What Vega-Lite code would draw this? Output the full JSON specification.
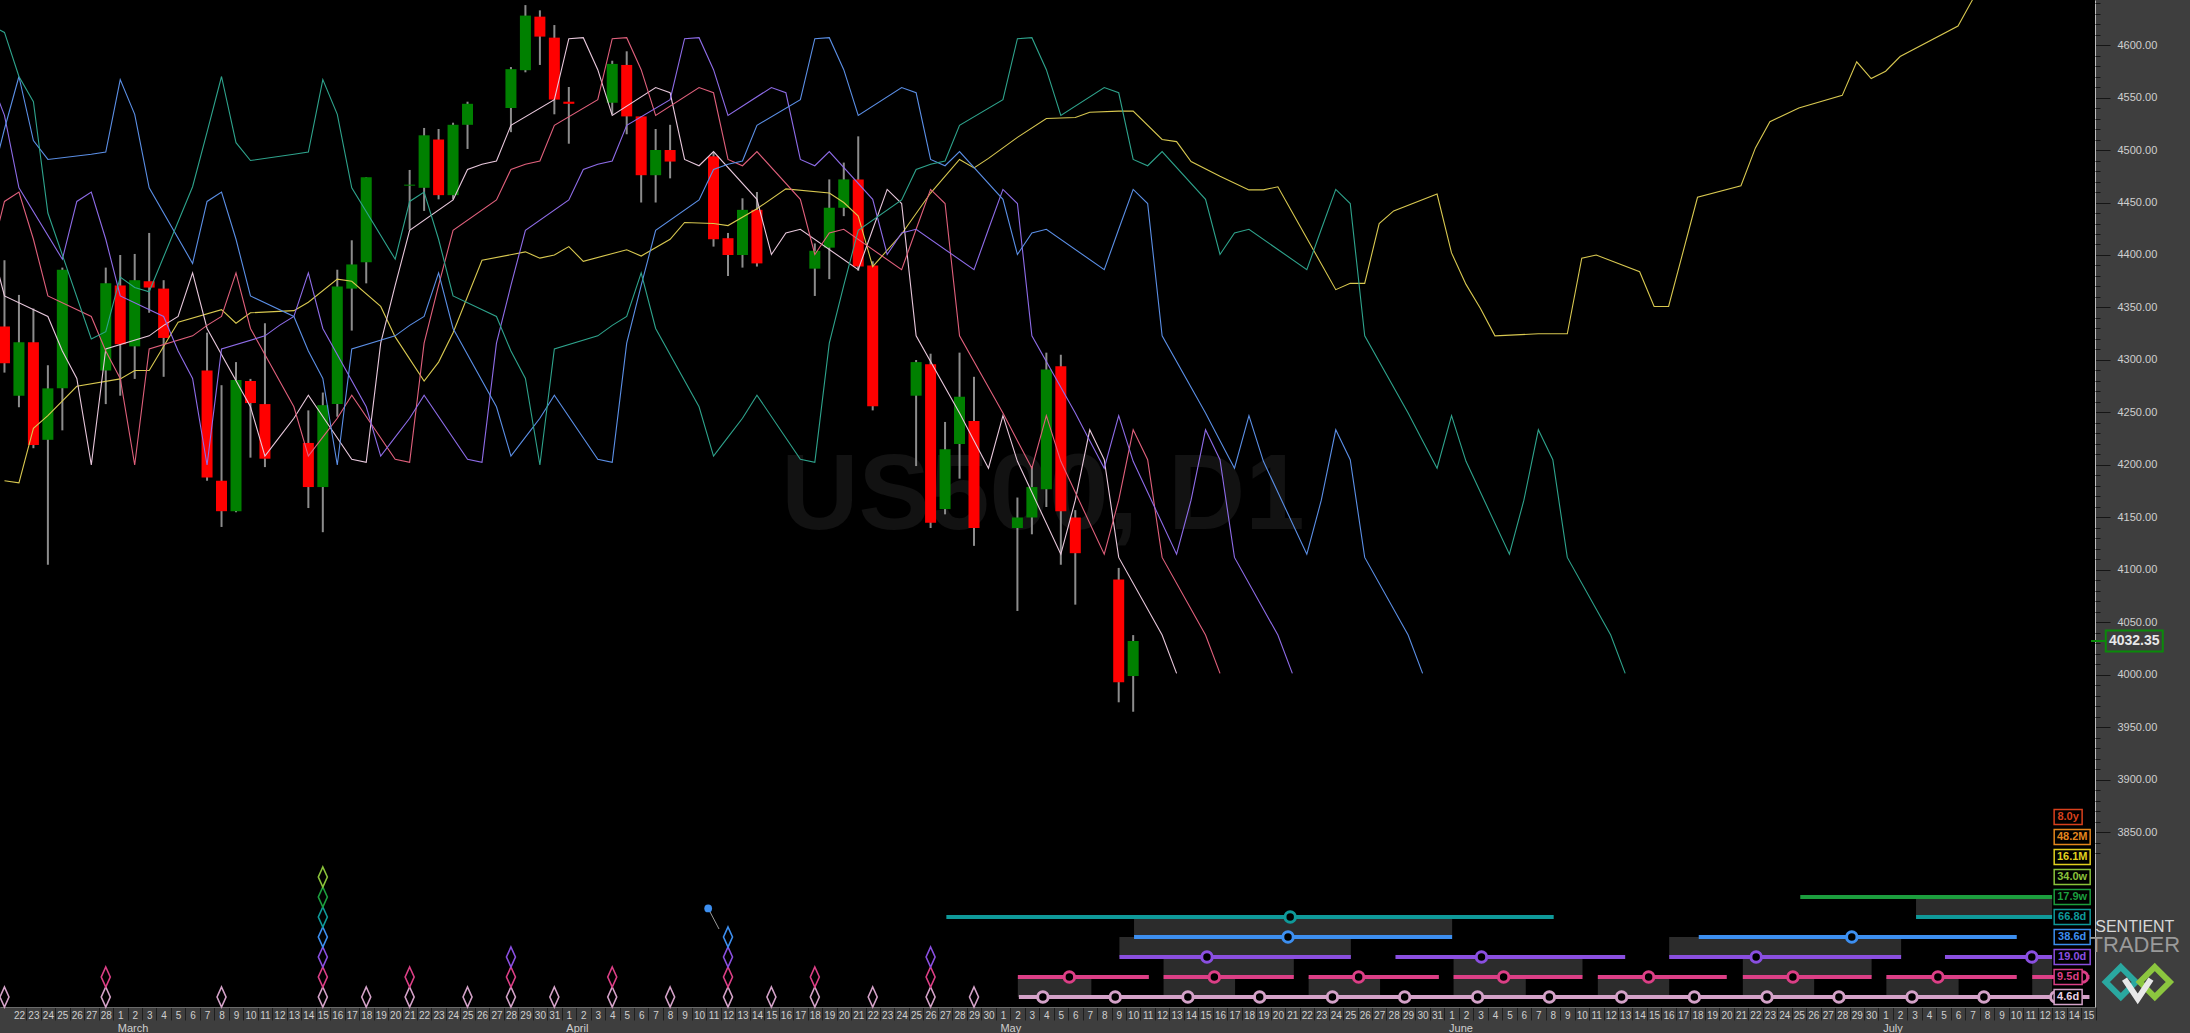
{
  "$schema": "https://vega.github.io/schema/vega-lite/v6.json",
  "width": 2095,
  "height": 1007,
  "autosize": {"type": "none"},
  "padding": {"left": 0, "top": 0, "right": 95, "bottom": 26},
  "background": "#3e3e3e",
  "config": {"view": {"fill": "#000000", "stroke": null}, "font": "Liberation Sans", "axis": {"labelOverlap": false}},
  "datasets": {
    "candles": [
      {"t":"2022-02-21","o":4332,"h":4395,"l":4288,"c":4297},
      {"t":"2022-02-22","o":4266,"h":4362,"l":4255,"c":4317},
      {"t":"2022-02-23","o":4317,"h":4349,"l":4216,"c":4219},
      {"t":"2022-02-24","o":4224,"h":4295,"l":4105,"c":4273},
      {"t":"2022-02-25","o":4273,"h":4388,"l":4233,"c":4386},
      {"t":"2022-02-28","o":4290,"h":4388,"l":4258,"c":4373},
      {"t":"2022-03-01","o":4371,"h":4400,"l":4266,"c":4315},
      {"t":"2022-03-02","o":4313,"h":4401,"l":4282,"c":4376},
      {"t":"2022-03-03","o":4375,"h":4421,"l":4345,"c":4369},
      {"t":"2022-03-04","o":4368,"h":4376,"l":4284,"c":4321},
      {"t":"2022-03-07","o":4290,"h":4326,"l":4185,"c":4188},
      {"t":"2022-03-08","o":4185,"h":4276,"l":4141,"c":4156},
      {"t":"2022-03-09","o":4156,"h":4298,"l":4155,"c":4281},
      {"t":"2022-03-10","o":4280,"h":4282,"l":4207,"c":4259},
      {"t":"2022-03-11","o":4258,"h":4335,"l":4198,"c":4206},
      {"t":"2022-03-14","o":4221,"h":4252,"l":4159,"c":4179},
      {"t":"2022-03-15","o":4179,"h":4269,"l":4136,"c":4257},
      {"t":"2022-03-16","o":4258,"h":4386,"l":4246,"c":4370},
      {"t":"2022-03-17","o":4368,"h":4414,"l":4328,"c":4391},
      {"t":"2022-03-18","o":4393,"h":4474,"l":4373,"c":4474},
      {"t":"2022-03-21","o":4466,"h":4481,"l":4424,"c":4467},
      {"t":"2022-03-22","o":4464,"h":4521,"l":4442,"c":4514},
      {"t":"2022-03-23","o":4510,"h":4520,"l":4453,"c":4457},
      {"t":"2022-03-24","o":4457,"h":4526,"l":4453,"c":4524},
      {"t":"2022-03-25","o":4524,"h":4546,"l":4501,"c":4544},
      {"t":"2022-03-28","o":4540,"h":4579,"l":4517,"c":4577},
      {"t":"2022-03-29","o":4576,"h":4638,"l":4574,"c":4628},
      {"t":"2022-03-30","o":4627,"h":4633,"l":4581,"c":4608},
      {"t":"2022-03-31","o":4607,"h":4619,"l":4534,"c":4548},
      {"t":"2022-04-01","o":4546,"h":4560,"l":4506,"c":4544},
      {"t":"2022-04-04","o":4545,"h":4585,"l":4534,"c":4582},
      {"t":"2022-04-05","o":4581,"h":4594,"l":4515,"c":4532},
      {"t":"2022-04-06","o":4532,"h":4532,"l":4450,"c":4476},
      {"t":"2022-04-07","o":4476,"h":4520,"l":4450,"c":4500},
      {"t":"2022-04-08","o":4500,"h":4524,"l":4473,"c":4489},
      {"t":"2022-04-11","o":4494,"h":4498,"l":4408,"c":4415},
      {"t":"2022-04-12","o":4416,"h":4421,"l":4380,"c":4400},
      {"t":"2022-04-13","o":4400,"h":4454,"l":4388,"c":4443},
      {"t":"2022-04-14","o":4443,"h":4460,"l":4389,"c":4392},
      {"t":"2022-04-18","o":4387,"h":4411,"l":4361,"c":4404},
      {"t":"2022-04-19","o":4407,"h":4472,"l":4377,"c":4445},
      {"t":"2022-04-20","o":4445,"h":4488,"l":4437,"c":4472},
      {"t":"2022-04-21","o":4472,"h":4513,"l":4385,"c":4389},
      {"t":"2022-04-22","o":4390,"h":4394,"l":4252,"c":4256},
      {"t":"2022-04-25","o":4266,"h":4300,"l":4199,"c":4298},
      {"t":"2022-04-26","o":4296,"h":4306,"l":4140,"c":4145},
      {"t":"2022-04-27","o":4158,"h":4241,"l":4153,"c":4215},
      {"t":"2022-04-28","o":4220,"h":4307,"l":4187,"c":4265},
      {"t":"2022-04-29","o":4242,"h":4284,"l":4123,"c":4140},
      {"t":"2022-05-02","o":4140,"h":4169,"l":4061,"c":4150},
      {"t":"2022-05-03","o":4150,"h":4199,"l":4134,"c":4179},
      {"t":"2022-05-04","o":4177,"h":4307,"l":4160,"c":4291},
      {"t":"2022-05-05","o":4294,"h":4305,"l":4105,"c":4156},
      {"t":"2022-05-06","o":4150,"h":4157,"l":4067,"c":4116},
      {"t":"2022-05-09","o":4091,"h":4102,"l":3974,"c":3993},
      {"t":"2022-05-10","o":3999,"h":4038,"l":3965,"c":4032.35}
    ],
    "lines": [
      {"s":"Y","t":"2022-02-21","p":4185},{"s":"Y","t":"2022-02-22","p":4183},{"s":"Y","t":"2022-02-23","p":4235},{"s":"Y","t":"2022-02-24","p":4247},
      {"s":"Y","t":"2022-02-26","p":4275},{"s":"Y","t":"2022-03-01","p":4282},{"s":"Y","t":"2022-03-02","p":4290},{"s":"Y","t":"2022-03-03","p":4290},
      {"s":"Y","t":"2022-03-05","p":4336},{"s":"Y","t":"2022-03-08","p":4348},{"s":"Y","t":"2022-03-09","p":4335},{"s":"Y","t":"2022-03-10","p":4345},
      {"s":"Y","t":"2022-03-13","p":4347},{"s":"Y","t":"2022-03-14","p":4355},{"s":"Y","t":"2022-03-16","p":4377},{"s":"Y","t":"2022-03-17","p":4375},
      {"s":"Y","t":"2022-03-19","p":4351},{"s":"Y","t":"2022-03-20","p":4322},{"s":"Y","t":"2022-03-22","p":4280},{"s":"Y","t":"2022-03-23","p":4298},
      {"s":"Y","t":"2022-03-24","p":4326},{"s":"Y","t":"2022-03-26","p":4395},{"s":"Y","t":"2022-03-29","p":4403},{"s":"Y","t":"2022-03-30","p":4397},
      {"s":"Y","t":"2022-03-31","p":4400},{"s":"Y","t":"2022-04-01","p":4408},{"s":"Y","t":"2022-04-02","p":4394},{"s":"Y","t":"2022-04-05","p":4405},
      {"s":"Y","t":"2022-04-06","p":4399},{"s":"Y","t":"2022-04-08","p":4415},{"s":"Y","t":"2022-04-09","p":4431},{"s":"Y","t":"2022-04-11","p":4430},
      {"s":"Y","t":"2022-04-12","p":4428},{"s":"Y","t":"2022-04-14","p":4444},{"s":"Y","t":"2022-04-16","p":4463},{"s":"Y","t":"2022-04-19","p":4459},
      {"s":"Y","t":"2022-04-20","p":4450},{"s":"Y","t":"2022-04-21","p":4437},{"s":"Y","t":"2022-04-22","p":4389},{"s":"Y","t":"2022-04-24","p":4420},
      {"s":"Y","t":"2022-04-26","p":4459},{"s":"Y","t":"2022-04-28","p":4491},{"s":"Y","t":"2022-04-29","p":4483},{"s":"Y","t":"2022-04-30","p":4492},
      {"s":"Y","t":"2022-05-02","p":4512},{"s":"Y","t":"2022-05-04","p":4530},{"s":"Y","t":"2022-05-06","p":4531},{"s":"Y","t":"2022-05-07","p":4536},
      {"s":"Y","t":"2022-05-09","p":4537},{"s":"Y","t":"2022-05-10","p":4537},{"s":"Y","t":"2022-05-12","p":4510},{"s":"Y","t":"2022-05-13","p":4508},
      {"s":"Y","t":"2022-05-14","p":4489},{"s":"Y","t":"2022-05-16","p":4475},{"s":"Y","t":"2022-05-18","p":4462},{"s":"Y","t":"2022-05-19","p":4462},
      {"s":"Y","t":"2022-05-20","p":4465},{"s":"Y","t":"2022-05-22","p":4416},{"s":"Y","t":"2022-05-24","p":4367},{"s":"Y","t":"2022-05-25","p":4373},
      {"s":"Y","t":"2022-05-26","p":4373},{"s":"Y","t":"2022-05-27","p":4430},{"s":"Y","t":"2022-05-28","p":4442},{"s":"Y","t":"2022-05-31","p":4458},
      {"s":"Y","t":"2022-06-01","p":4402},{"s":"Y","t":"2022-06-02","p":4372},{"s":"Y","t":"2022-06-03","p":4349},{"s":"Y","t":"2022-06-04","p":4323},
      {"s":"Y","t":"2022-06-07","p":4325},{"s":"Y","t":"2022-06-09","p":4325},{"s":"Y","t":"2022-06-10","p":4397},{"s":"Y","t":"2022-06-11","p":4400},
      {"s":"Y","t":"2022-06-14","p":4384},{"s":"Y","t":"2022-06-15","p":4351},{"s":"Y","t":"2022-06-16","p":4351},{"s":"Y","t":"2022-06-18","p":4455},
      {"s":"Y","t":"2022-06-21","p":4466},{"s":"Y","t":"2022-06-22","p":4502},{"s":"Y","t":"2022-06-23","p":4527},{"s":"Y","t":"2022-06-25","p":4540},
      {"s":"Y","t":"2022-06-28","p":4552},{"s":"Y","t":"2022-06-29","p":4584},{"s":"Y","t":"2022-06-30","p":4568},{"s":"Y","t":"2022-07-01","p":4575},
      {"s":"Y","t":"2022-07-02","p":4589},{"s":"Y","t":"2022-07-06","p":4618},{"s":"Y","t":"2022-07-07","p":4643},{"s":"Y","t":"2022-07-08","p":4668},

      {"s":"W","t":"2022-02-20","p":4414},{"s":"W","t":"2022-02-21","p":4361},{"s":"W","t":"2022-02-24","p":4341.5},{"s":"W","t":"2022-02-25","p":4308.5},
      {"s":"W","t":"2022-02-26","p":4282.5},{"s":"W","t":"2022-02-27","p":4200},{"s":"W","t":"2022-02-28","p":4310.5},{"s":"W","t":"2022-03-03","p":4323},
      {"s":"W","t":"2022-03-04","p":4333},{"s":"W","t":"2022-03-05","p":4341.5},{"s":"W","t":"2022-03-06","p":4383},{"s":"W","t":"2022-03-07","p":4330},
      {"s":"W","t":"2022-03-10","p":4255.5},{"s":"W","t":"2022-03-11","p":4208.5},{"s":"W","t":"2022-03-12","p":4226.5},{"s":"W","t":"2022-03-13","p":4244.5},
      {"s":"W","t":"2022-03-14","p":4266.5},{"s":"W","t":"2022-03-17","p":4205.5},{"s":"W","t":"2022-03-18","p":4202.5},{"s":"W","t":"2022-03-19","p":4316},
      {"s":"W","t":"2022-03-20","p":4371},{"s":"W","t":"2022-03-21","p":4423.5},{"s":"W","t":"2022-03-24","p":4452.5},{"s":"W","t":"2022-03-25","p":4481.5},
      {"s":"W","t":"2022-03-26","p":4486.5},{"s":"W","t":"2022-03-27","p":4489.5},{"s":"W","t":"2022-03-28","p":4523.5},{"s":"W","t":"2022-03-31","p":4548},
      {"s":"W","t":"2022-04-01","p":4606},{"s":"W","t":"2022-04-02","p":4607},{"s":"W","t":"2022-04-03","p":4576.5},{"s":"W","t":"2022-04-04","p":4533},
      {"s":"W","t":"2022-04-07","p":4559.5},{"s":"W","t":"2022-04-08","p":4554.5},{"s":"W","t":"2022-04-09","p":4491},{"s":"W","t":"2022-04-10","p":4485},
      {"s":"W","t":"2022-04-11","p":4498.5},{"s":"W","t":"2022-04-14","p":4453},{"s":"W","t":"2022-04-15","p":4400.5},{"s":"W","t":"2022-04-16","p":4421},
      {"s":"W","t":"2022-04-17","p":4424.5},{"s":"W","t":"2022-04-21","p":4386},{"s":"W","t":"2022-04-22","p":4424.5},{"s":"W","t":"2022-04-23","p":4462.5},
      {"s":"W","t":"2022-04-24","p":4449},{"s":"W","t":"2022-04-25","p":4323},{"s":"W","t":"2022-04-28","p":4249.5},{"s":"W","t":"2022-04-29","p":4223},
      {"s":"W","t":"2022-04-30","p":4197},{"s":"W","t":"2022-05-01","p":4247},{"s":"W","t":"2022-05-02","p":4203.5},{"s":"W","t":"2022-05-05","p":4115},
      {"s":"W","t":"2022-05-06","p":4166.5},{"s":"W","t":"2022-05-07","p":4233.5},{"s":"W","t":"2022-05-08","p":4205},{"s":"W","t":"2022-05-09","p":4112},
      {"s":"W","t":"2022-05-12","p":4038},{"s":"W","t":"2022-05-13","p":4001.5},

      {"s":"R","t":"2022-02-20","p":4396},{"s":"R","t":"2022-02-21","p":4451},{"s":"R","t":"2022-02-22","p":4460},{"s":"R","t":"2022-02-23","p":4415},
      {"s":"R","t":"2022-02-24","p":4361},{"s":"R","t":"2022-02-27","p":4341.5},{"s":"R","t":"2022-02-28","p":4308.5},{"s":"R","t":"2022-03-01","p":4282.5},
      {"s":"R","t":"2022-03-02","p":4200},{"s":"R","t":"2022-03-03","p":4310.5},{"s":"R","t":"2022-03-06","p":4323},{"s":"R","t":"2022-03-07","p":4333},
      {"s":"R","t":"2022-03-08","p":4341.5},{"s":"R","t":"2022-03-09","p":4383},{"s":"R","t":"2022-03-10","p":4330},{"s":"R","t":"2022-03-13","p":4255.5},
      {"s":"R","t":"2022-03-14","p":4208.5},{"s":"R","t":"2022-03-15","p":4226.5},{"s":"R","t":"2022-03-16","p":4244.5},{"s":"R","t":"2022-03-17","p":4266.5},
      {"s":"R","t":"2022-03-20","p":4205.5},{"s":"R","t":"2022-03-21","p":4202.5},{"s":"R","t":"2022-03-22","p":4316},{"s":"R","t":"2022-03-23","p":4371},
      {"s":"R","t":"2022-03-24","p":4423.5},{"s":"R","t":"2022-03-27","p":4452.5},{"s":"R","t":"2022-03-28","p":4481.5},{"s":"R","t":"2022-03-29","p":4486.5},
      {"s":"R","t":"2022-03-30","p":4489.5},{"s":"R","t":"2022-03-31","p":4523.5},{"s":"R","t":"2022-04-03","p":4548},{"s":"R","t":"2022-04-04","p":4606},
      {"s":"R","t":"2022-04-05","p":4607},{"s":"R","t":"2022-04-06","p":4576.5},{"s":"R","t":"2022-04-07","p":4533},{"s":"R","t":"2022-04-10","p":4559.5},
      {"s":"R","t":"2022-04-11","p":4554.5},{"s":"R","t":"2022-04-12","p":4491},{"s":"R","t":"2022-04-13","p":4485},{"s":"R","t":"2022-04-14","p":4498.5},
      {"s":"R","t":"2022-04-17","p":4453},{"s":"R","t":"2022-04-18","p":4400.5},{"s":"R","t":"2022-04-19","p":4421},{"s":"R","t":"2022-04-20","p":4424.5},
      {"s":"R","t":"2022-04-24","p":4386},{"s":"R","t":"2022-04-25","p":4424.5},{"s":"R","t":"2022-04-26","p":4462.5},{"s":"R","t":"2022-04-27","p":4449},
      {"s":"R","t":"2022-04-28","p":4323},{"s":"R","t":"2022-05-01","p":4249.5},{"s":"R","t":"2022-05-02","p":4223},{"s":"R","t":"2022-05-03","p":4197},
      {"s":"R","t":"2022-05-04","p":4247},{"s":"R","t":"2022-05-05","p":4203.5},{"s":"R","t":"2022-05-08","p":4115},{"s":"R","t":"2022-05-09","p":4166.5},
      {"s":"R","t":"2022-05-10","p":4233.5},{"s":"R","t":"2022-05-11","p":4205},{"s":"R","t":"2022-05-12","p":4112},{"s":"R","t":"2022-05-15","p":4038},
      {"s":"R","t":"2022-05-16","p":4001.5},

      {"s":"P","t":"2022-02-19","p":4498},{"s":"P","t":"2022-02-20","p":4569},{"s":"P","t":"2022-02-21","p":4533},{"s":"P","t":"2022-02-22","p":4464},
      {"s":"P","t":"2022-02-25","p":4396},{"s":"P","t":"2022-02-26","p":4451},{"s":"P","t":"2022-02-27","p":4460},{"s":"P","t":"2022-02-28","p":4415},
      {"s":"P","t":"2022-03-01","p":4361},{"s":"P","t":"2022-03-04","p":4341.5},{"s":"P","t":"2022-03-05","p":4308.5},{"s":"P","t":"2022-03-06","p":4282.5},
      {"s":"P","t":"2022-03-07","p":4200},{"s":"P","t":"2022-03-08","p":4310.5},{"s":"P","t":"2022-03-11","p":4323},{"s":"P","t":"2022-03-12","p":4333},
      {"s":"P","t":"2022-03-13","p":4341.5},{"s":"P","t":"2022-03-14","p":4383},{"s":"P","t":"2022-03-15","p":4330},{"s":"P","t":"2022-03-18","p":4255.5},
      {"s":"P","t":"2022-03-19","p":4208.5},{"s":"P","t":"2022-03-20","p":4226.5},{"s":"P","t":"2022-03-21","p":4244.5},{"s":"P","t":"2022-03-22","p":4266.5},
      {"s":"P","t":"2022-03-25","p":4205.5},{"s":"P","t":"2022-03-26","p":4202.5},{"s":"P","t":"2022-03-27","p":4316},{"s":"P","t":"2022-03-28","p":4371},
      {"s":"P","t":"2022-03-29","p":4423.5},{"s":"P","t":"2022-04-01","p":4452.5},{"s":"P","t":"2022-04-02","p":4481.5},{"s":"P","t":"2022-04-03","p":4486.5},
      {"s":"P","t":"2022-04-04","p":4489.5},{"s":"P","t":"2022-04-05","p":4523.5},{"s":"P","t":"2022-04-08","p":4548},{"s":"P","t":"2022-04-09","p":4606},
      {"s":"P","t":"2022-04-10","p":4607},{"s":"P","t":"2022-04-11","p":4576.5},{"s":"P","t":"2022-04-12","p":4533},{"s":"P","t":"2022-04-15","p":4559.5},
      {"s":"P","t":"2022-04-16","p":4554.5},{"s":"P","t":"2022-04-17","p":4491},{"s":"P","t":"2022-04-18","p":4485},{"s":"P","t":"2022-04-19","p":4498.5},
      {"s":"P","t":"2022-04-22","p":4453},{"s":"P","t":"2022-04-23","p":4400.5},{"s":"P","t":"2022-04-24","p":4421},{"s":"P","t":"2022-04-25","p":4424.5},
      {"s":"P","t":"2022-04-29","p":4386},{"s":"P","t":"2022-04-30","p":4424.5},{"s":"P","t":"2022-05-01","p":4462.5},{"s":"P","t":"2022-05-02","p":4449},
      {"s":"P","t":"2022-05-03","p":4323},{"s":"P","t":"2022-05-06","p":4249.5},{"s":"P","t":"2022-05-07","p":4223},{"s":"P","t":"2022-05-08","p":4197},
      {"s":"P","t":"2022-05-09","p":4247},{"s":"P","t":"2022-05-10","p":4203.5},{"s":"P","t":"2022-05-13","p":4115},{"s":"P","t":"2022-05-14","p":4166.5},
      {"s":"P","t":"2022-05-15","p":4233.5},{"s":"P","t":"2022-05-16","p":4205},{"s":"P","t":"2022-05-17","p":4112},{"s":"P","t":"2022-05-20","p":4038},
      {"s":"P","t":"2022-05-21","p":4001.5},

      {"s":"B","t":"2022-02-17","p":4365},{"s":"B","t":"2022-02-20","p":4465},{"s":"B","t":"2022-02-21","p":4520},{"s":"B","t":"2022-02-22","p":4570},
      {"s":"B","t":"2022-02-23","p":4509},{"s":"B","t":"2022-02-24","p":4491},{"s":"B","t":"2022-02-27","p":4496},{"s":"B","t":"2022-02-28","p":4498},
      {"s":"B","t":"2022-03-01","p":4567},{"s":"B","t":"2022-03-02","p":4534},{"s":"B","t":"2022-03-03","p":4464},{"s":"B","t":"2022-03-06","p":4392},
      {"s":"B","t":"2022-03-07","p":4451},{"s":"B","t":"2022-03-08","p":4460},{"s":"B","t":"2022-03-09","p":4415},{"s":"B","t":"2022-03-10","p":4361},
      {"s":"B","t":"2022-03-13","p":4341.5},{"s":"B","t":"2022-03-14","p":4308.5},{"s":"B","t":"2022-03-15","p":4282.5},{"s":"B","t":"2022-03-16","p":4200},
      {"s":"B","t":"2022-03-17","p":4310.5},{"s":"B","t":"2022-03-20","p":4323},{"s":"B","t":"2022-03-21","p":4333},{"s":"B","t":"2022-03-22","p":4341.5},
      {"s":"B","t":"2022-03-23","p":4383},{"s":"B","t":"2022-03-24","p":4330},{"s":"B","t":"2022-03-27","p":4255.5},{"s":"B","t":"2022-03-28","p":4208.5},
      {"s":"B","t":"2022-03-29","p":4226.5},{"s":"B","t":"2022-03-30","p":4244.5},{"s":"B","t":"2022-03-31","p":4266.5},{"s":"B","t":"2022-04-03","p":4205.5},
      {"s":"B","t":"2022-04-04","p":4202.5},{"s":"B","t":"2022-04-05","p":4316},{"s":"B","t":"2022-04-06","p":4371},{"s":"B","t":"2022-04-07","p":4423.5},
      {"s":"B","t":"2022-04-10","p":4452.5},{"s":"B","t":"2022-04-11","p":4481.5},{"s":"B","t":"2022-04-12","p":4486.5},{"s":"B","t":"2022-04-13","p":4489.5},
      {"s":"B","t":"2022-04-14","p":4523.5},{"s":"B","t":"2022-04-17","p":4548},{"s":"B","t":"2022-04-18","p":4606},{"s":"B","t":"2022-04-19","p":4607},
      {"s":"B","t":"2022-04-20","p":4576.5},{"s":"B","t":"2022-04-21","p":4533},{"s":"B","t":"2022-04-24","p":4559.5},{"s":"B","t":"2022-04-25","p":4554.5},
      {"s":"B","t":"2022-04-26","p":4491},{"s":"B","t":"2022-04-27","p":4485},{"s":"B","t":"2022-04-28","p":4498.5},{"s":"B","t":"2022-05-01","p":4453},
      {"s":"B","t":"2022-05-02","p":4400.5},{"s":"B","t":"2022-05-03","p":4421},{"s":"B","t":"2022-05-04","p":4424.5},{"s":"B","t":"2022-05-08","p":4386},
      {"s":"B","t":"2022-05-09","p":4424.5},{"s":"B","t":"2022-05-10","p":4462.5},{"s":"B","t":"2022-05-11","p":4449},{"s":"B","t":"2022-05-12","p":4323},
      {"s":"B","t":"2022-05-15","p":4249.5},{"s":"B","t":"2022-05-16","p":4223},{"s":"B","t":"2022-05-17","p":4197},{"s":"B","t":"2022-05-18","p":4247},
      {"s":"B","t":"2022-05-19","p":4203.5},{"s":"B","t":"2022-05-22","p":4115},{"s":"B","t":"2022-05-23","p":4166.5},{"s":"B","t":"2022-05-24","p":4233.5},
      {"s":"B","t":"2022-05-25","p":4205},{"s":"B","t":"2022-05-26","p":4112},{"s":"B","t":"2022-05-29","p":4038},{"s":"B","t":"2022-05-30","p":4001.5},

      {"s":"T","t":"2022-02-17","p":4640},{"s":"T","t":"2022-02-21","p":4612},{"s":"T","t":"2022-02-22","p":4570},{"s":"T","t":"2022-02-23","p":4546},
      {"s":"T","t":"2022-02-24","p":4440},{"s":"T","t":"2022-02-27","p":4320},{"s":"T","t":"2022-02-28","p":4327},{"s":"T","t":"2022-03-01","p":4379},
      {"s":"T","t":"2022-03-02","p":4369},{"s":"T","t":"2022-03-03","p":4365},{"s":"T","t":"2022-03-06","p":4465},{"s":"T","t":"2022-03-07","p":4517},
      {"s":"T","t":"2022-03-08","p":4570},{"s":"T","t":"2022-03-09","p":4507},{"s":"T","t":"2022-03-10","p":4490},{"s":"T","t":"2022-03-13","p":4496},
      {"s":"T","t":"2022-03-14","p":4498},{"s":"T","t":"2022-03-15","p":4567},{"s":"T","t":"2022-03-16","p":4534},{"s":"T","t":"2022-03-17","p":4464},
      {"s":"T","t":"2022-03-20","p":4396},{"s":"T","t":"2022-03-21","p":4451},{"s":"T","t":"2022-03-22","p":4460},{"s":"T","t":"2022-03-23","p":4415},
      {"s":"T","t":"2022-03-24","p":4361},{"s":"T","t":"2022-03-27","p":4341.5},{"s":"T","t":"2022-03-28","p":4308.5},{"s":"T","t":"2022-03-29","p":4282.5},
      {"s":"T","t":"2022-03-30","p":4200},{"s":"T","t":"2022-03-31","p":4310.5},{"s":"T","t":"2022-04-03","p":4323},{"s":"T","t":"2022-04-04","p":4333},
      {"s":"T","t":"2022-04-05","p":4341.5},{"s":"T","t":"2022-04-06","p":4383},{"s":"T","t":"2022-04-07","p":4330},{"s":"T","t":"2022-04-10","p":4255.5},
      {"s":"T","t":"2022-04-11","p":4208.5},{"s":"T","t":"2022-04-12","p":4226.5},{"s":"T","t":"2022-04-13","p":4244.5},{"s":"T","t":"2022-04-14","p":4266.5},
      {"s":"T","t":"2022-04-17","p":4205.5},{"s":"T","t":"2022-04-18","p":4202.5},{"s":"T","t":"2022-04-19","p":4316},{"s":"T","t":"2022-04-20","p":4371},
      {"s":"T","t":"2022-04-21","p":4423.5},{"s":"T","t":"2022-04-24","p":4452.5},{"s":"T","t":"2022-04-25","p":4481.5},{"s":"T","t":"2022-04-26","p":4486.5},
      {"s":"T","t":"2022-04-27","p":4489.5},{"s":"T","t":"2022-04-28","p":4523.5},{"s":"T","t":"2022-05-01","p":4548},{"s":"T","t":"2022-05-02","p":4606},
      {"s":"T","t":"2022-05-03","p":4607},{"s":"T","t":"2022-05-04","p":4576.5},{"s":"T","t":"2022-05-05","p":4533},{"s":"T","t":"2022-05-08","p":4559.5},
      {"s":"T","t":"2022-05-09","p":4554.5},{"s":"T","t":"2022-05-10","p":4491},{"s":"T","t":"2022-05-11","p":4485},{"s":"T","t":"2022-05-12","p":4498.5},
      {"s":"T","t":"2022-05-15","p":4453},{"s":"T","t":"2022-05-16","p":4400.5},{"s":"T","t":"2022-05-17","p":4421},{"s":"T","t":"2022-05-18","p":4424.5},
      {"s":"T","t":"2022-05-22","p":4386},{"s":"T","t":"2022-05-23","p":4424.5},{"s":"T","t":"2022-05-24","p":4462.5},{"s":"T","t":"2022-05-25","p":4449},
      {"s":"T","t":"2022-05-26","p":4323},{"s":"T","t":"2022-05-29","p":4249.5},{"s":"T","t":"2022-05-30","p":4223},{"s":"T","t":"2022-05-31","p":4197},
      {"s":"T","t":"2022-06-01","p":4247},{"s":"T","t":"2022-06-02","p":4203.5},{"s":"T","t":"2022-06-05","p":4115},{"s":"T","t":"2022-06-06","p":4166.5},
      {"s":"T","t":"2022-06-07","p":4233.5},{"s":"T","t":"2022-06-08","p":4205},{"s":"T","t":"2022-06-09","p":4112},{"s":"T","t":"2022-06-12","p":4038},
      {"s":"T","t":"2022-06-13","p":4001.5}
    ],
    "bars": [
      {"cycle":"17.9w","level":5,"t":"2022-06-25T02:24:00Z","t2":"2022-07-12T12:00:00Z"},
      {"cycle":"66.8d","level":4,"t":"2022-04-27T02:10:00Z","t2":"2022-06-08T01:26:00Z"},
      {"cycle":"66.8d","level":4,"t":"2022-07-03T02:24:00Z","t2":"2022-07-12T12:00:00Z"},
      {"cycle":"38.6d","level":3,"t":"2022-05-10T01:26:00Z","t2":"2022-06-01T01:00:00Z"},
      {"cycle":"38.6d","level":3,"t":"2022-06-18T02:00:00Z","t2":"2022-07-10T01:26:00Z"},
      {"cycle":"19.0d","level":2,"t":"2022-05-09T01:12:00Z","t2":"2022-05-25T01:00:00Z"},
      {"cycle":"19.0d","level":2,"t":"2022-05-28T03:00:00Z","t2":"2022-06-13T00:00:00Z"},
      {"cycle":"19.0d","level":2,"t":"2022-06-16T01:00:00Z","t2":"2022-07-02T01:40:00Z"},
      {"cycle":"19.0d","level":2,"t":"2022-07-05T02:24:00Z","t2":"2022-07-12T12:00:00Z"},
      {"cycle":"9.5d","level":1,"t":"2022-05-02T00:43:00Z","t2":"2022-05-11T02:00:00Z"},
      {"cycle":"9.5d","level":1,"t":"2022-05-12T02:24:00Z","t2":"2022-05-21T02:24:00Z"},
      {"cycle":"9.5d","level":1,"t":"2022-05-22T03:00:00Z","t2":"2022-05-31T03:00:00Z"},
      {"cycle":"9.5d","level":1,"t":"2022-06-01T03:22:00Z","t2":"2022-06-10T01:12:00Z"},
      {"cycle":"9.5d","level":1,"t":"2022-06-11T02:38:00Z","t2":"2022-06-20T00:29:00Z"},
      {"cycle":"9.5d","level":1,"t":"2022-06-21T03:07:00Z","t2":"2022-06-30T00:43:00Z"},
      {"cycle":"9.5d","level":1,"t":"2022-07-01T01:12:00Z","t2":"2022-07-10T01:26:00Z"},
      {"cycle":"9.5d","level":1,"t":"2022-07-11T03:07:00Z","t2":"2022-07-15T02:00:00Z"},
      {"cycle":"4.6d","level":0,"t":"2022-05-02T02:24:00Z","t2":"2022-07-15T02:00:00Z"}
    ],
    "rings": [
      {"cycle":"66.8d","level":4,"t":"2022-05-20T20:24:00Z"},
      {"cycle":"38.6d","level":3,"t":"2022-05-20T16:48:00Z"},
      {"cycle":"38.6d","level":3,"t":"2022-06-28T15:50:00Z"},
      {"cycle":"19.0d","level":2,"t":"2022-05-15T02:24:00Z"},
      {"cycle":"19.0d","level":2,"t":"2022-06-03T01:40:00Z"},
      {"cycle":"19.0d","level":2,"t":"2022-06-22T01:12:00Z"},
      {"cycle":"19.0d","level":2,"t":"2022-07-11T02:24:00Z"},
      {"cycle":"9.5d","level":1,"t":"2022-05-05T14:10:00Z"},
      {"cycle":"9.5d","level":1,"t":"2022-05-15T14:38:00Z"},
      {"cycle":"9.5d","level":1,"t":"2022-05-25T13:55:00Z"},
      {"cycle":"9.5d","level":1,"t":"2022-06-04T14:24:00Z"},
      {"cycle":"9.5d","level":1,"t":"2022-06-14T14:53:00Z"},
      {"cycle":"9.5d","level":1,"t":"2022-06-24T14:10:00Z"},
      {"cycle":"9.5d","level":1,"t":"2022-07-04T14:38:00Z"},
      {"cycle":"9.5d","level":1,"t":"2022-07-14T14:24:00Z"},
      {"cycle":"4.6d","level":0,"t":"2022-05-03T18:14:00Z"},
      {"cycle":"4.6d","level":0,"t":"2022-05-08T18:14:00Z"},
      {"cycle":"4.6d","level":0,"t":"2022-05-13T18:43:00Z"},
      {"cycle":"4.6d","level":0,"t":"2022-05-18T17:46:00Z"},
      {"cycle":"4.6d","level":0,"t":"2022-05-23T18:29:00Z"},
      {"cycle":"4.6d","level":0,"t":"2022-05-28T18:14:00Z"},
      {"cycle":"4.6d","level":0,"t":"2022-06-02T19:12:00Z"},
      {"cycle":"4.6d","level":0,"t":"2022-06-07T18:14:00Z"},
      {"cycle":"4.6d","level":0,"t":"2022-06-12T18:00:00Z"},
      {"cycle":"4.6d","level":0,"t":"2022-06-17T18:43:00Z"},
      {"cycle":"4.6d","level":0,"t":"2022-06-22T19:12:00Z"},
      {"cycle":"4.6d","level":0,"t":"2022-06-27T18:29:00Z"},
      {"cycle":"4.6d","level":0,"t":"2022-07-02T19:41:00Z"},
      {"cycle":"4.6d","level":0,"t":"2022-07-07T18:58:00Z"},
      {"cycle":"4.6d","level":0,"t":"2022-07-12T18:14:00Z"}
    ],
    "shades": [
      {"lo":3,"hi":4,"t":"2022-05-10T01:26:00Z","t2":"2022-06-01T01:00:00Z"},
      {"lo":2,"hi":3,"t":"2022-05-09T01:12:00Z","t2":"2022-05-25T01:00:00Z"},
      {"lo":2,"hi":3,"t":"2022-06-16T01:00:00Z","t2":"2022-07-02T01:40:00Z"},
      {"lo":1,"hi":2,"t":"2022-05-12T02:24:00Z","t2":"2022-05-21T02:24:00Z"},
      {"lo":1,"hi":2,"t":"2022-06-01T03:22:00Z","t2":"2022-06-10T01:12:00Z"},
      {"lo":1,"hi":2,"t":"2022-06-21T03:07:00Z","t2":"2022-06-30T00:43:00Z"},
      {"lo":1,"hi":2,"t":"2022-07-11T03:07:00Z","t2":"2022-07-12T12:00:00Z"},
      {"lo":0,"hi":1,"t":"2022-05-02T00:43:00Z","t2":"2022-05-07T02:38:00Z"},
      {"lo":0,"hi":1,"t":"2022-05-12T02:24:00Z","t2":"2022-05-17T01:00:00Z"},
      {"lo":0,"hi":1,"t":"2022-05-22T03:00:00Z","t2":"2022-05-27T01:26:00Z"},
      {"lo":0,"hi":1,"t":"2022-06-01T03:22:00Z","t2":"2022-06-06T03:07:00Z"},
      {"lo":0,"hi":1,"t":"2022-06-11T02:38:00Z","t2":"2022-06-16T01:00:00Z"},
      {"lo":0,"hi":1,"t":"2022-06-21T03:07:00Z","t2":"2022-06-26T01:26:00Z"},
      {"lo":0,"hi":1,"t":"2022-07-01T01:12:00Z","t2":"2022-07-06T01:00:00Z"},
      {"lo":0,"hi":1,"t":"2022-07-11T03:07:00Z","t2":"2022-07-12T12:00:00Z"},
      {"lo":4,"hi":5,"t":"2022-07-03T02:24:00Z","t2":"2022-07-12T12:00:00Z"}
    ],
    "diamonds": [
      {"cycle":"4.6d","level":0,"t":"2022-02-21"},
      {"cycle":"4.6d","level":0,"t":"2022-02-28"},{"cycle":"9.5d","level":1,"t":"2022-02-28"},
      {"cycle":"4.6d","level":0,"t":"2022-03-08"},
      {"cycle":"4.6d","level":0,"t":"2022-03-15"},{"cycle":"9.5d","level":1,"t":"2022-03-15"},{"cycle":"19.0d","level":2,"t":"2022-03-15"},{"cycle":"38.6d","level":3,"t":"2022-03-15"},{"cycle":"66.8d","level":4,"t":"2022-03-15"},{"cycle":"17.9w","level":5,"t":"2022-03-15"},{"cycle":"34.0w","level":6,"t":"2022-03-15"},
      {"cycle":"4.6d","level":0,"t":"2022-03-18"},
      {"cycle":"4.6d","level":0,"t":"2022-03-21"},{"cycle":"9.5d","level":1,"t":"2022-03-21"},
      {"cycle":"4.6d","level":0,"t":"2022-03-25"},
      {"cycle":"4.6d","level":0,"t":"2022-03-28"},{"cycle":"9.5d","level":1,"t":"2022-03-28"},{"cycle":"19.0d","level":2,"t":"2022-03-28"},
      {"cycle":"4.6d","level":0,"t":"2022-03-31"},
      {"cycle":"4.6d","level":0,"t":"2022-04-04"},{"cycle":"9.5d","level":1,"t":"2022-04-04"},
      {"cycle":"4.6d","level":0,"t":"2022-04-08"},
      {"cycle":"4.6d","level":0,"t":"2022-04-12"},{"cycle":"9.5d","level":1,"t":"2022-04-12"},{"cycle":"19.0d","level":2,"t":"2022-04-12"},{"cycle":"38.6d","level":3,"t":"2022-04-12"},
      {"cycle":"4.6d","level":0,"t":"2022-04-15"},
      {"cycle":"4.6d","level":0,"t":"2022-04-18"},{"cycle":"9.5d","level":1,"t":"2022-04-18"},
      {"cycle":"4.6d","level":0,"t":"2022-04-22"},
      {"cycle":"4.6d","level":0,"t":"2022-04-26"},{"cycle":"9.5d","level":1,"t":"2022-04-26"},{"cycle":"19.0d","level":2,"t":"2022-04-26"},
      {"cycle":"4.6d","level":0,"t":"2022-04-29"}
    ],
    "legend": [
      {"cycle":"8.0y","level":9},{"cycle":"48.2M","level":8},{"cycle":"16.1M","level":7},{"cycle":"34.0w","level":6},{"cycle":"17.9w","level":5},
      {"cycle":"66.8d","level":4},{"cycle":"38.6d","level":3},{"cycle":"19.0d","level":2},{"cycle":"9.5d","level":1},{"cycle":"4.6d","level":0}
    ]
  },
  "layer": [
    {
      "layer": [
        {
          "data": {"name": "shades"},
          "mark": {"type": "rect", "color": "#2c2c2c"},
          "encoding": {
            "x": {"field": "t", "type": "temporal",
              "scale": {"type": "utc", "nice": false, "domain": [1645404780000, 1657853700000]},
              "axis": {"orient": "bottom", "values": [1646092800000, 1648771200000, 1651363200000, 1654041600000, 1656633600000], "tickCount": 1000, "labelExpr": "utcFormat(datum.value, '%B')",
                "labelAlign": "left", "labelOffset": -3, "labelPadding": 15, "labelColor": "#cfcfcf", "labelFontSize": 11, "labelFont": "Liberation Sans Narrow, Liberation Sans, sans-serif",
                "ticks": false, "tickSize": 0, "domain": false, "grid": false, "title": null, "labelOverlap": false, "labelFlush": false, "labelBound": false}},
            "x2": {"field": "t2"},
            "y": {"field": "lo", "type": "quantitative", "scale": {"domain": [-0.5, 49.85], "nice": false, "zero": false}, "axis": null},
            "y2": {"field": "hi"}
          }
        },
        {
          "data": {"values": [{"label": "US500, D1"}]},
          "mark": {"type": "text", "fontSize": 107, "fontWeight": "bold", "color": "#121212", "align": "center", "baseline": "middle"},
          "encoding": {
            "x": {"datum": 1651602600000, "type": "temporal", "scale": {"type": "utc", "nice": false, "domain": [1645404780000, 1657853700000]}},
            "y": {"datum": 25, "type": "quantitative", "scale": {"domain": [-0.5, 49.85], "nice": false, "zero": false}, "axis": null},
            "text": {"field": "label"}
          }
        },
        {
          "data": {"name": "bars"},
          "mark": {"type": "rule", "strokeWidth": 4, "strokeCap": "butt"},
          "encoding": {
            "x": {"field": "t", "type": "temporal", "scale": {"type": "utc", "nice": false, "domain": [1645404780000, 1657853700000]}},
            "x2": {"field": "t2"},
            "y": {"field": "level", "type": "quantitative", "scale": {"domain": [-0.5, 49.85], "nice": false, "zero": false}, "axis": null},
            "stroke": {"field": "cycle", "type": "nominal", "legend": null,
              "scale": {"domain": ["4.6d","9.5d","19.0d","38.6d","66.8d","17.9w","34.0w","16.1M","48.2M","8.0y"], "range": ["#d4a2c8","#dc3f86","#8a4fe0","#3d8ff0","#0f9a9a","#1c9e3e","#8ac23a","#e2d01e","#e4861c","#d8401c"]}}
          }
        },
        {
          "data": {"name": "rings"},
          "mark": {"type": "point", "shape": "circle", "size": 110, "filled": true, "fill": "#000000", "strokeWidth": 3, "opacity": 1},
          "encoding": {
            "x": {"field": "t", "type": "temporal", "scale": {"type": "utc", "nice": false, "domain": [1645404780000, 1657853700000]}},
            "y": {"field": "level", "type": "quantitative", "scale": {"domain": [-0.5, 49.85], "nice": false, "zero": false}, "axis": null},
            "stroke": {"field": "cycle", "type": "nominal", "legend": null,
              "scale": {"domain": ["4.6d","9.5d","19.0d","38.6d","66.8d","17.9w","34.0w","16.1M","48.2M","8.0y"], "range": ["#d4a2c8","#dc3f86","#8a4fe0","#3d8ff0","#0f9a9a","#1c9e3e","#8ac23a","#e2d01e","#e4861c","#d8401c"]}}
          }
        },
        {
          "data": {"name": "diamonds"},
          "mark": {"type": "point", "shape": "M0,-1L0.45,0L0,1L-0.45,0Z", "size": 400, "filled": false, "strokeWidth": 1.6, "opacity": 1},
          "encoding": {
            "x": {"field": "t", "type": "temporal", "scale": {"type": "utc", "nice": false, "domain": [1645404780000, 1657853700000]}},
            "y": {"field": "level", "type": "quantitative", "scale": {"domain": [-0.5, 49.85], "nice": false, "zero": false}, "axis": null},
            "stroke": {"field": "cycle", "type": "nominal", "legend": null,
              "scale": {"domain": ["4.6d","9.5d","19.0d","38.6d","66.8d","17.9w","34.0w","16.1M","48.2M","8.0y"], "range": ["#d4a2c8","#dc3f86","#8a4fe0","#3d8ff0","#0f9a9a","#1c9e3e","#8ac23a","#e2d01e","#e4861c","#d8401c"]}}
          }
        },
        {
          "data": {"values": [{"t": "2022-04-10T15:07:00Z", "t2": "2022-04-11T09:07:00Z", "hi": 4.43, "lo": 3.4}]},
          "mark": {"type": "rule", "color": "#9a9a9a", "strokeWidth": 1},
          "encoding": {
            "x": {"field": "t", "type": "temporal", "scale": {"type": "utc", "nice": false, "domain": [1645404780000, 1657853700000]}},
            "x2": {"field": "t2"},
            "y": {"field": "hi", "type": "quantitative", "scale": {"domain": [-0.5, 49.85], "nice": false, "zero": false}, "axis": null},
            "y2": {"field": "lo"}
          }
        },
        {
          "data": {"values": [{"t": "2022-04-10T15:07:00Z", "hi": 4.43}]},
          "mark": {"type": "point", "shape": "circle", "size": 60, "filled": true, "color": "#3d8ff0", "opacity": 1},
          "encoding": {
            "x": {"field": "t", "type": "temporal", "scale": {"type": "utc", "nice": false, "domain": [1645404780000, 1657853700000]}},
            "y": {"field": "hi", "type": "quantitative", "scale": {"domain": [-0.5, 49.85], "nice": false, "zero": false}, "axis": null}
          }
        },
        {
          "data": {"name": "legend"},
          "transform": [{"filter": "length(datum.cycle) === 4"}],
          "mark": {"type": "point", "shape": "M-1,-0.536L1,-0.536L1,0.536L-1,0.536Z", "size": 784, "filled": true, "fill": "#000000", "strokeWidth": 1.5, "opacity": 1},
          "encoding": {
            "x": {"datum": 1657723080000, "type": "temporal", "scale": {"type": "utc", "nice": false, "domain": [1645404780000, 1657853700000]}},
            "y": {"field": "level", "type": "quantitative", "scale": {"domain": [-0.5, 49.85], "nice": false, "zero": false}, "axis": null},
            "stroke": {"field": "cycle", "type": "nominal", "legend": null,
              "scale": {"domain": ["4.6d","9.5d","19.0d","38.6d","66.8d","17.9w","34.0w","16.1M","48.2M","8.0y"], "range": ["#d4a2c8","#dc3f86","#8a4fe0","#3d8ff0","#0f9a9a","#1c9e3e","#8ac23a","#e2d01e","#e4861c","#d8401c"]}}
          }
        },
        {
          "data": {"name": "legend"},
          "transform": [{"filter": "length(datum.cycle) === 4"}],
          "mark": {"type": "text", "fontSize": 11, "fontWeight": "bold", "align": "center", "baseline": "middle"},
          "encoding": {
            "x": {"datum": 1657723080000, "type": "temporal", "scale": {"type": "utc", "nice": false, "domain": [1645404780000, 1657853700000]}},
            "y": {"field": "level", "type": "quantitative", "scale": {"domain": [-0.5, 49.85], "nice": false, "zero": false}, "axis": null},
            "text": {"field": "cycle"},
            "fill": {"field": "cycle", "type": "nominal", "legend": null,
              "scale": {"domain": ["4.6d","9.5d","19.0d","38.6d","66.8d","17.9w","34.0w","16.1M","48.2M","8.0y"], "range": ["#ecd2e6","#dc3f86","#8a4fe0","#3d8ff0","#0f9a9a","#1c9e3e","#8ac23a","#e2d01e","#e4861c","#d8401c"]}}
          }
        },
        {
          "data": {"name": "legend"},
          "transform": [{"filter": "length(datum.cycle) === 5"}],
          "mark": {"type": "point", "shape": "M-1,-0.417L1,-0.417L1,0.417L-1,0.417Z", "size": 1296, "filled": true, "fill": "#000000", "strokeWidth": 1.5, "opacity": 1},
          "encoding": {
            "x": {"datum": 1657747320000, "type": "temporal", "scale": {"type": "utc", "nice": false, "domain": [1645404780000, 1657853700000]}},
            "y": {"field": "level", "type": "quantitative", "scale": {"domain": [-0.5, 49.85], "nice": false, "zero": false}, "axis": null},
            "stroke": {"field": "cycle", "type": "nominal", "legend": null,
              "scale": {"domain": ["4.6d","9.5d","19.0d","38.6d","66.8d","17.9w","34.0w","16.1M","48.2M","8.0y"], "range": ["#d4a2c8","#dc3f86","#8a4fe0","#3d8ff0","#0f9a9a","#1c9e3e","#8ac23a","#e2d01e","#e4861c","#d8401c"]}}
          }
        },
        {
          "data": {"name": "legend"},
          "transform": [{"filter": "length(datum.cycle) === 5"}],
          "mark": {"type": "text", "fontSize": 11, "fontWeight": "bold", "align": "center", "baseline": "middle"},
          "encoding": {
            "x": {"datum": 1657747320000, "type": "temporal", "scale": {"type": "utc", "nice": false, "domain": [1645404780000, 1657853700000]}},
            "y": {"field": "level", "type": "quantitative", "scale": {"domain": [-0.5, 49.85], "nice": false, "zero": false}, "axis": null},
            "text": {"field": "cycle"},
            "fill": {"field": "cycle", "type": "nominal", "legend": null,
              "scale": {"domain": ["4.6d","9.5d","19.0d","38.6d","66.8d","17.9w","34.0w","16.1M","48.2M","8.0y"], "range": ["#ecd2e6","#dc3f86","#8a4fe0","#3d8ff0","#0f9a9a","#1c9e3e","#8ac23a","#e2d01e","#e4861c","#d8401c"]}}
          }
        },
        {
          "data": {"values": [{"label": "SENTIENT"}]},
          "mark": {"type": "text", "fontSize": 16, "color": "#d8d8d8", "align": "center", "baseline": "middle"},
          "encoding": {
            "x": {"datum": 1658121420000, "type": "temporal", "scale": {"type": "utc", "nice": false, "domain": [1645404780000, 1657853700000]}},
            "y": {"datum": 3.5, "type": "quantitative", "scale": {"domain": [-0.5, 49.85], "nice": false, "zero": false}, "axis": null},
            "text": {"field": "label"}
          }
        },
        {
          "data": {"values": [{"label": "TRADER"}]},
          "mark": {"type": "text", "fontSize": 22, "color": "#9a9a9a", "align": "center", "baseline": "middle"},
          "encoding": {
            "x": {"datum": 1658121420000, "type": "temporal", "scale": {"type": "utc", "nice": false, "domain": [1645404780000, 1657853700000]}},
            "y": {"datum": 2.6, "type": "quantitative", "scale": {"domain": [-0.5, 49.85], "nice": false, "zero": false}, "axis": null},
            "text": {"field": "label"}
          }
        },
        {
          "data": {"values": [{"part": "left"}]},
          "mark": {"type": "point", "shape": "M0,-1L1,0L0,1L-1,0Z", "size": 900, "filled": false, "stroke": "#2aa8a0", "strokeWidth": 6, "opacity": 1},
          "encoding": {
            "x": {"datum": 1658037600000, "type": "temporal", "scale": {"type": "utc", "nice": false, "domain": [1645404780000, 1657853700000]}},
            "y": {"datum": 0.75, "type": "quantitative", "scale": {"domain": [-0.5, 49.85], "nice": false, "zero": false}, "axis": null}
          }
        },
        {
          "data": {"values": [{"part": "right"}]},
          "mark": {"type": "point", "shape": "M0,-1L1,0L0,1L-1,0Z", "size": 900, "filled": false, "stroke": "#8cc63f", "strokeWidth": 6, "opacity": 1},
          "encoding": {
            "x": {"datum": 1658240640000, "type": "temporal", "scale": {"type": "utc", "nice": false, "domain": [1645404780000, 1657853700000]}},
            "y": {"datum": 0.75, "type": "quantitative", "scale": {"domain": [-0.5, 49.85], "nice": false, "zero": false}, "axis": null}
          }
        },
        {
          "data": {"values": [{"part": "mid"}]},
          "mark": {"type": "point", "shape": "M-1,-0.6L0,0.9L1,-0.6", "size": 700, "filled": false, "stroke": "#e8e8e8", "strokeWidth": 6, "opacity": 1},
          "encoding": {
            "x": {"datum": 1658138700000, "type": "temporal", "scale": {"type": "utc", "nice": false, "domain": [1645404780000, 1657853700000]}},
            "y": {"datum": 0.5, "type": "quantitative", "scale": {"domain": [-0.5, 49.85], "nice": false, "zero": false}, "axis": null}
          }
        }
      ]
    },
    {
      "layer": [
        {
          "data": {"name": "candles"},
          "mark": {"type": "rule", "color": "#8c8c8c", "strokeWidth": 2, "clip": true},
          "encoding": {
            "x": {"field": "t", "type": "temporal",
              "scale": {"type": "utc", "nice": false, "domain": [1645404780000, 1657853700000]},
              "axis": {"orient": "bottom", "tickCount": 1000,
                "values": [1645488000000,1645574400000,1645660800000,1645747200000,1645833600000,1645920000000,1646006400000,1646092800000,1646179200000,1646265600000,1646352000000,1646438400000,1646524800000,1646611200000,1646697600000,1646784000000,1646870400000,1646956800000,1647043200000,1647129600000,1647216000000,1647302400000,1647388800000,1647475200000,1647561600000,1647648000000,1647734400000,1647820800000,1647907200000,1647993600000,1648080000000,1648166400000,1648252800000,1648339200000,1648425600000,1648512000000,1648598400000,1648684800000,1648771200000,1648857600000,1648944000000,1649030400000,1649116800000,1649203200000,1649289600000,1649376000000,1649462400000,1649548800000,1649635200000,1649721600000,1649808000000,1649894400000,1649980800000,1650067200000,1650153600000,1650240000000,1650326400000,1650412800000,1650499200000,1650585600000,1650672000000,1650758400000,1650844800000,1650931200000,1651017600000,1651104000000,1651190400000,1651276800000,1651363200000,1651449600000,1651536000000,1651622400000,1651708800000,1651795200000,1651881600000,1651968000000,1652054400000,1652140800000,1652227200000,1652313600000,1652400000000,1652486400000,1652572800000,1652659200000,1652745600000,1652832000000,1652918400000,1653004800000,1653091200000,1653177600000,1653264000000,1653350400000,1653436800000,1653523200000,1653609600000,1653696000000,1653782400000,1653868800000,1653955200000,1654041600000,1654128000000,1654214400000,1654300800000,1654387200000,1654473600000,1654560000000,1654646400000,1654732800000,1654819200000,1654905600000,1654992000000,1655078400000,1655164800000,1655251200000,1655337600000,1655424000000,1655510400000,1655596800000,1655683200000,1655769600000,1655856000000,1655942400000,1656028800000,1656115200000,1656201600000,1656288000000,1656374400000,1656460800000,1656547200000,1656633600000,1656720000000,1656806400000,1656892800000,1656979200000,1657065600000,1657152000000,1657238400000,1657324800000,1657411200000,1657497600000,1657584000000,1657670400000,1657756800000,1657843200000],
                "labelExpr": "utcFormat(datum.value, '%-d')",
                "labelColor": "#cfcfcf", "labelFontSize": 10, "labelFont": "Liberation Sans Narrow, Liberation Sans, sans-serif", "labelPadding": -10, "labelOffset": -7.27,
                "tickColor": "#1e1e1e", "tickSize": 13, "tickOffset": 7.27, "tickWidth": 1, "domainColor": "#6a6a6a",
                "grid": false, "title": null, "labelOverlap": false, "labelFlush": false, "labelBound": false}},
            "y": {"field": "l", "type": "quantitative", "scale": {"domain": [3683.8, 4642.86], "nice": false, "zero": false},
              "axis": {"orient": "right", "title": null, "grid": false, "tickCount": 1000,
                "values": [3850,3900,3950,4000,4050,4100,4150,4200,4250,4300,4350,4400,4450,4500,4550,4600],
                "labelExpr": "format(datum.value, '.2f')",
                "labelColor": "#cfcfcf", "labelFontSize": 11, "labelPadding": 7,
                "tickColor": "#151515", "tickWidth": 1, "tickSize": 15,
                "domainColor": "#bdbdbd", "labelOverlap": false, "labelBound": false, "labelFlush": false}},
            "y2": {"field": "h"}
          }
        },
        {
          "data": {"name": "candles"},
          "mark": {"type": "bar", "size": 11, "clip": true},
          "encoding": {
            "x": {"field": "t", "type": "temporal", "scale": {"type": "utc", "nice": false, "domain": [1645404780000, 1657853700000]}},
            "y": {"field": "o", "type": "quantitative", "scale": {"domain": [3683.8, 4642.86], "nice": false, "zero": false}},
            "y2": {"field": "c"},
            "color": {"condition": {"test": "datum.c >= datum.o", "value": "#008000"}, "value": "#ff0000"}
          }
        },
        {
          "data": {"name": "lines"},
          "mark": {"type": "line", "strokeWidth": 1.1, "clip": true},
          "encoding": {
            "x": {"field": "t", "type": "temporal", "scale": {"type": "utc", "nice": false, "domain": [1645404780000, 1657853700000]}},
            "y": {"field": "p", "type": "quantitative", "scale": {"domain": [3683.8, 4642.86], "nice": false, "zero": false}},
            "color": {"field": "s", "type": "nominal", "legend": null,
              "scale": {"domain": ["Y","T","B","P","R","W"], "range": ["#d8c850","#2ea38c","#5b8fe6","#8e6ce8","#e0607c","#e8c8dc"]}},
            "order": {"field": "t", "type": "temporal"}
          }
        },
        {
          "data": {"values": [{"p": 4032.35, "label": "4032.35"}]},
          "mark": {"type": "rule", "color": "#0a8a0a", "strokeWidth": 2},
          "encoding": {
            "x": {"datum": 1657859640000, "type": "temporal", "scale": {"type": "utc", "nice": false, "domain": [1645404780000, 1657853700000]}},
            "x2": {"datum": 1657948620000},
            "y": {"field": "p", "type": "quantitative", "scale": {"domain": [3683.8, 4642.86], "nice": false, "zero": false}}
          }
        },
        {
          "data": {"values": [{"p": 4032.35, "label": "4032.35"}]},
          "mark": {"type": "point", "shape": "M-1,-0.368L1,-0.368L1,0.368L-1,0.368Z", "size": 3249, "filled": true, "fill": "#3e3e3e", "stroke": "#0a8a0a", "strokeWidth": 2, "opacity": 1},
          "encoding": {
            "x": {"datum": 1658117940000, "type": "temporal", "scale": {"type": "utc", "nice": false, "domain": [1645404780000, 1657853700000]}},
            "y": {"field": "p", "type": "quantitative", "scale": {"domain": [3683.8, 4642.86], "nice": false, "zero": false}}
          }
        },
        {
          "data": {"values": [{"p": 4032.35, "label": "4032.35"}]},
          "mark": {"type": "text", "fontSize": 14, "fontWeight": "bold", "color": "#e8e8e8", "align": "center", "baseline": "middle"},
          "encoding": {
            "x": {"datum": 1658117940000, "type": "temporal", "scale": {"type": "utc", "nice": false, "domain": [1645404780000, 1657853700000]}},
            "y": {"field": "p", "type": "quantitative", "scale": {"domain": [3683.8, 4642.86], "nice": false, "zero": false}},
            "text": {"field": "label"}
          }
        }
      ]
    },
    {
      "data": {"name": "candles"},
      "mark": {"type": "rule", "opacity": 0},
      "encoding": {
        "x": {"field": "t", "type": "temporal", "scale": {"type": "utc", "nice": false, "domain": [1645404780000, 1657853700000]}, "axis": null},
        "y": {"field": "l", "type": "quantitative", "scale": {"domain": [3683.8, 4642.86], "nice": false, "zero": false},
          "axis": {"orient": "right", "title": null, "grid": false, "labels": false, "domain": false, "tickCount": 1000,
            "values": [3830,3840,3860,3870,3880,3890,3910,3920,3930,3940,3960,3970,3980,3990,4010,4020,4030,4040,4060,4070,4080,4090,4110,4120,4130,4140,4160,4170,4180,4190,4210,4220,4230,4240,4260,4270,4280,4290,4310,4320,4330,4340,4360,4370,4380,4390,4410,4420,4430,4440,4460,4470,4480,4490,4510,4520,4530,4540,4560,4570,4580,4590,4610,4620,4630,4640],
            "tickColor": "#151515", "tickWidth": 1, "tickSize": 5}},
        "y2": {"field": "h"}
      }
    }
  ],
  "resolve": {
    "scale": {"y": "independent", "color": "independent", "stroke": "independent", "fill": "independent"},
    "axis": {"x": "independent", "y": "independent"}
  }
}
